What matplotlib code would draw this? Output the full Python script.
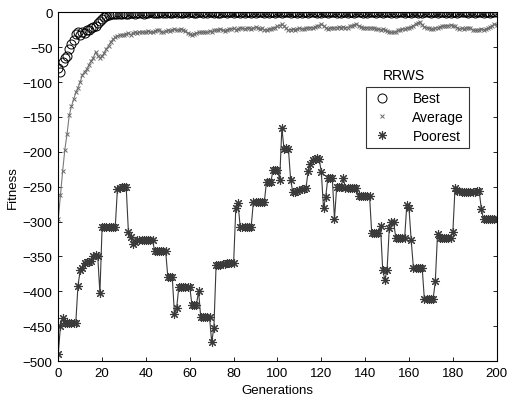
import numpy as np
import matplotlib.pyplot as plt

# =========================
# DATA
# =========================

generations = np.arange(0, 201)

best = [-80, -85, -72, -66, -62, -52, -45, -40, -31, -29, -32, -28, -30, -26, -25,
        -23, -21, -19, -16, -13, -9, -7, -5, -4, -3,
        -3, -2, -3, -2, -2, -1, -2, -2, -1, -1, -2, -1, -1, -1, -2, -1, -1, 0, -1, -1,
        -1, -1, 0, -1, -1, 0, -1, -1, 0, -1, 0, -1, -1, 0, -1, 0, 0, -1, -1, 0,
        0, -1, 0, -1, 0, 0, -1, 0, -1, -1, 0, 0, -1, 0, 0, -1, 0, 0, -1, 0,
        -1, 0, 0, -1, 0, -1, 0, 0, 0, -1, 0, -1, 0, 0, -1, 0, 0, -1, 0, 0,
        0, -1, 0, 0, -1, 0, -1, 0, 0, -1, 0, 0, 0, -1, 0, -1, 0, 0, -1, 0,
        0, 0, -1, 0, -1, 0, 0, -1, 0, 0, -1, 0, 0, 0, -1, 0, -1, 0, 0, 0,
        -1, 0, 0, -1, 0, 0, 0, -1, 0, -1, 0, 0, 0, -1, 0, 0, -1, 0, 0, -1,
        0, -1, 0, 0, 0, -1, 0, 0, -1, 0, 0, 0, -1, 0, -1, 0, 0, -1, 0, 0,
        0, 0, -1, 0, 0, -1, 0, 0, 0, -1, 0, 0, -1, 0, 0, 0]

average = [-297, -262, -228, -197, -175, -148, -135, -125, -115, -108, -100, -90,
           -85, -82, -75, -70, -65, -57, -62, -65, -63, -58, -52, -48, -42, -39,
           -36, -34, -33, -33, -32,
           -31, -30, -32, -30, -29, -30, -28, -29, -28, -29, -27, -28, -29, -27, -26,
           -25, -28, -29, -27, -26, -27, -25, -24, -26, -25, -24, -26, -27, -30, -31,
           -33, -31, -30, -29, -29, -28, -29, -29, -27, -28, -26, -26, -25, -24, -26,
           -27, -25, -24, -24, -23, -25, -24, -22, -23, -24, -23, -22, -24, -23, -21,
           -22, -24, -23, -25, -26, -24, -24, -23, -22, -20, -19, -17, -20, -23, -26,
           -25, -24, -25, -24, -23, -24, -24, -23, -22, -22, -23, -21, -20, -19, -17,
           -19, -22, -24, -23, -22, -23, -22, -21, -22, -21, -22, -22, -20, -19, -18,
           -17, -19, -21, -22, -22, -22, -23, -22, -23, -24, -24, -25, -24, -25, -27,
           -28, -29, -29, -28, -26, -25, -24, -24, -23, -22, -21, -19, -17, -15, -14,
           -18, -21, -22, -23, -24, -24, -23, -22, -21, -20, -20, -19, -19, -18, -19,
           -20, -22, -24, -23, -24, -23, -22, -23, -25, -26, -26, -25, -24, -25, -24,
           -23, -21, -19, -17, -18]

poorest = [-490, -450, -438, -445, -445, -445, -445, -445, -445, -392,
           -370, -367, -359, -358, -358, -357, -349, -348, -349, -403,
           -308, -308, -308, -308, -308, -308, -308,
           -253, -252, -251, -251, -251,
           -315, -322, -332, -330,
           -326, -326, -326, -326, -326, -326, -326, -326,
           -343, -343, -343, -343, -343, -343,
           -380, -380, -380,
           -432, -424,
           -394, -394, -394, -394, -394, -394,
           -420, -420, -420,
           -400,
           -437, -437, -437, -437, -437,
           -473, -452,
           -363, -362, -362, -361, -361, -360, -360, -360, -359,
           -281, -274,
           -308, -308, -308, -308, -308, -308,
           -272, -272, -272, -272, -272, -272,
           -243, -243, -243,
           -226, -226, -226,
           -240, -166,
           -196, -195, -196,
           -240,
           -258, -257, -256, -255, -254, -253, -252,
           -228, -218,
           -212, -210, -209, -210,
           -229, -281, -265,
           -237, -237, -237,
           -296,
           -251, -251, -251,
           -237,
           -252, -252, -252, -252, -252, -252,
           -263, -263, -263, -263, -263, -263,
           -317, -317, -317, -317,
           -307, -369, -384, -369, -310, -300, -301,
           -324, -324, -324, -324, -324,
           -276, -281, -327,
           -366, -366, -366, -366, -366,
           -411, -411, -411, -411, -411,
           -386, -318,
           -323, -323, -323, -323, -323, -323,
           -315, -252,
           -256, -256, -257, -257, -257, -258, -258, -257, -257, -256, -256,
           -282,
           -297, -297, -297, -297, -297, -297, -297]

legend_title = "RRWS"
labels = ["Best", "Average", "Poorest"]

# =========================
# PLOT
# =========================

plt.rcParams['font.family'] = ['Liberation Sans', 'DejaVu Sans']

fig = plt.figure(figsize=(5.11, 4.02), dpi=100)
ax = fig.add_axes([0.114, 0.0995, 0.858, 0.8675])

# lines (no legend entry)
ax.plot(generations, average, color='#7a7a7a', linewidth=0.8)
ax.plot(generations, poorest, color='#3a3a3a', linewidth=0.8)

# markers (legend entries)
ax.plot(generations, best, linestyle='none', marker='o', markersize=6.5,
        markerfacecolor='none', markeredgecolor='black', markeredgewidth=0.7,
        label=labels[0])
ax.plot(generations, average, linestyle='none', marker='x', markersize=3.5,
        color='#6a6a6a', markeredgewidth=0.7, label=labels[1])
ax.plot(generations, poorest, linestyle='none', marker=(8, 2, 0), markersize=6.5,
        color='#3a3a3a', markeredgewidth=0.8, label=labels[2])

ax.set_xlim(0, 200)
ax.set_ylim(-500, 0)
ax.set_xticks(np.arange(0, 201, 20))
ax.set_yticks(np.arange(-500, 1, 50))
ax.tick_params(direction='in', length=3, width=0.6, top=True, right=True,
               labelsize=9.5, pad=4)
for spine in ax.spines.values():
    spine.set_linewidth(0.8)

ax.set_xlabel("Generations", fontsize=9.5, labelpad=4)
ax.set_ylabel("Fitness", fontsize=9.5, labelpad=3)

leg = ax.legend(loc='upper right', bbox_to_anchor=(0.937, 0.787), fontsize=10,
                frameon=True, fancybox=False, edgecolor='black',
                handlelength=1.6, handletextpad=1.4, borderpad=0.35,
                labelspacing=0.35, borderaxespad=0)
leg.get_frame().set_linewidth(0.8)
ax.text(0.789, 0.82, legend_title, transform=ax.transAxes, fontsize=10,
        ha='center', va='center')

plt.savefig("out.png", dpi=100)
